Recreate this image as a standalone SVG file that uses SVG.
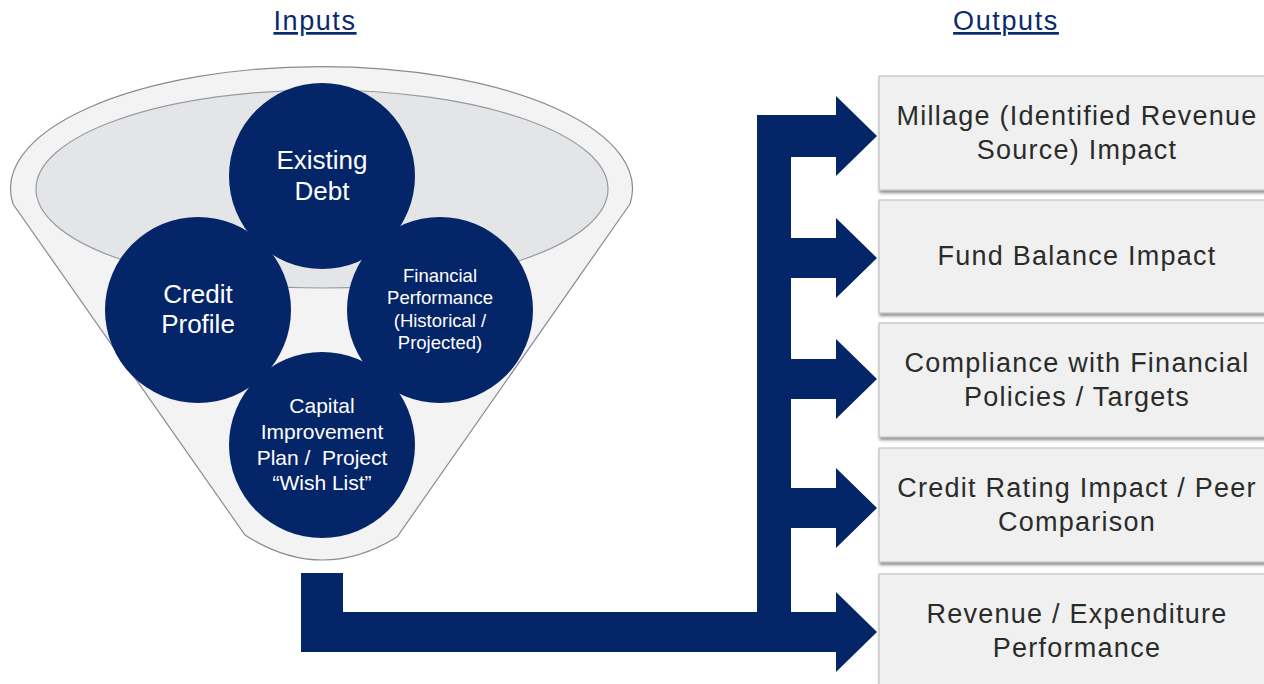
<svg xmlns="http://www.w3.org/2000/svg" width="1264" height="684" viewBox="0 0 1264 684">
<defs>
<style>
.title{font-family:"Liberation Sans",Arial,sans-serif;font-size:27px;fill:#0a2a6e;text-decoration:underline;letter-spacing:1.6px;text-anchor:middle}
.circ{fill:#052569}
.ct{font-family:"Liberation Sans",Arial,sans-serif;fill:#ffffff;text-anchor:middle;white-space:pre}
.box{fill:#f0f0f0;stroke:#b8b8b8;stroke-width:1;filter:url(#sh)}
.bt{font-family:"Liberation Sans",Arial,sans-serif;font-size:27px;fill:#2a2c2a;text-anchor:middle;letter-spacing:1.25px}
.flow{fill:#052569}
</style>
<filter id="sh" x="-5%" y="-10%" width="115%" height="125%">
<feDropShadow dx="1" dy="2.5" stdDeviation="1.5" flood-color="#000" flood-opacity="0.45"/>
</filter>
</defs>
<rect width="1264" height="684" fill="#ffffff"/>
<text class="title" x="315" y="30">Inputs</text>
<text class="title" x="1006" y="30">Outputs</text>

<g id="funnel">
<path d="M 630 204 L 397 537 Q 321 584 245 535 L 13 204 A 311 122 0 1 1 630 204 Z" fill="#f3f3f3" stroke="#858b96" stroke-width="1.2"/>
<ellipse cx="322" cy="189" rx="286" ry="99" fill="#e4e5e7" stroke="#969aa3" stroke-width="1.2"/>
</g>

<g id="node-existing-debt">
<circle class="circ" cx="322" cy="176" r="93"/>
<text class="ct" x="322" y="169" font-size="26">Existing</text>
<text class="ct" x="322" y="200" font-size="26">Debt</text>
</g>
<g id="node-credit-profile">
<circle class="circ" cx="198" cy="310" r="93"/>
<text class="ct" x="198" y="303" font-size="26">Credit</text>
<text class="ct" x="198" y="333" font-size="26">Profile</text>
</g>
<g id="node-financial-performance">
<circle class="circ" cx="440" cy="310" r="93"/>
<text class="ct" x="440" y="282" font-size="18.5">Financial</text>
<text class="ct" x="440" y="304" font-size="18.5">Performance</text>
<text class="ct" x="440" y="327" font-size="18.5">(Historical /</text>
<text class="ct" x="440" y="349" font-size="18.5">Projected)</text>
</g>
<g id="node-capital-improvement">
<circle class="circ" cx="322" cy="445" r="93"/>
<text class="ct" x="322" y="413" font-size="21">Capital</text>
<text class="ct" x="322" y="439" font-size="21">Improvement</text>
<text class="ct" x="322" y="465" font-size="21">Plan /  Project</text>
<text class="ct" x="322" y="490" font-size="21">“Wish List”</text>
</g>

<g id="connectors">
<path class="flow" d="M 757 115 H 836 V 96 L 877 136 L 836 176 V 157 H 791 V 238 H 836 V 218 L 877 258 L 836 298 V 278 H 791 V 359 H 836 V 339 L 877 379 L 836 419 V 399 H 791 V 488 H 836 V 468 L 877 508 L 836 548 V 528 H 791 V 612 H 836 V 592 L 877 632 L 836 672 V 652 H 301 V 573 H 343 V 612 H 757 Z"/>
</g>

<g id="out-millage">
<rect class="box" x="879" y="76" width="400" height="114"/>
<text class="bt" x="1077" y="125">Millage (Identified Revenue</text>
<text class="bt" x="1077" y="159">Source) Impact</text>
</g>
<g id="out-fund-balance">
<rect class="box" x="879" y="200" width="400" height="113"/>
<text class="bt" x="1077" y="265">Fund Balance Impact</text>
</g>
<g id="out-compliance">
<rect class="box" x="879" y="323" width="400" height="114"/>
<text class="bt" x="1077" y="372">Compliance with Financial</text>
<text class="bt" x="1077" y="406">Policies / Targets</text>
</g>
<g id="out-credit-rating">
<rect class="box" x="879" y="448" width="400" height="114"/>
<text class="bt" x="1077" y="497">Credit Rating Impact / Peer</text>
<text class="bt" x="1077" y="531">Comparison</text>
</g>
<g id="out-revenue">
<rect class="box" x="879" y="574" width="400" height="130"/>
<text class="bt" x="1077" y="623">Revenue / Expenditure</text>
<text class="bt" x="1077" y="657">Performance</text>
</g>
</svg>
